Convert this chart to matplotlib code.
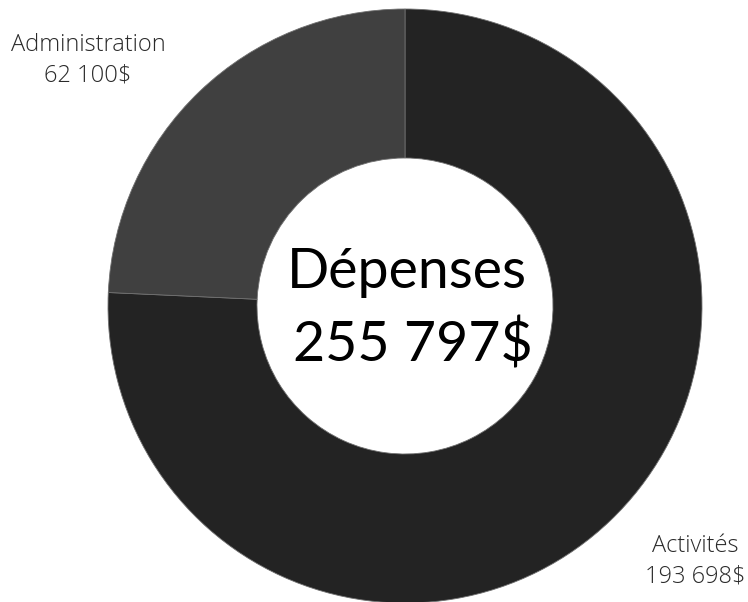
import matplotlib.pyplot as plt

# data
categories = ["Activités", "Administration"]
amounts = [193698, 62100]
amount_labels = ["193 698$", "62 100$"]
total_label = "255 797$"
colors = ["#232323", "#404040"]

W, H = 748, 602
fig = plt.figure(figsize=(W / 100, H / 100), dpi=100)
ax = fig.add_axes([0, 0, 1, 1])

# donut
ax.pie(amounts, colors=colors, startangle=90, counterclock=False,
       center=(405, H - 306), radius=297, frame=True,
       wedgeprops=dict(width=149, edgecolor="#707070", linewidth=0.6))
ax.set_xlim(0, W)
ax.set_ylim(0, H)
ax.set_aspect("equal")
ax.axis("off")

# center text
ax.text(407, H - 272, "Dépenses", ha="center", va="center",
        fontsize=40, family="Lato", color="black")
ax.text(413, H - 345, total_label, ha="center", va="center",
        fontsize=40, family="Lato", color="black")

# slice labels
label_pos = {"Activités": (695, 561), "Administration": (88, 60)}
for cat, lab in zip(categories, amount_labels):
    x, y = label_pos[cat]
    ax.text(x, H - y, cat + "\n" + lab, ha="center", va="center",
            fontsize=17, family="Open Sans", fontweight="light",
            color="#2a2a2a", linespacing=1.35)

fig.savefig("out.png", dpi=100)
